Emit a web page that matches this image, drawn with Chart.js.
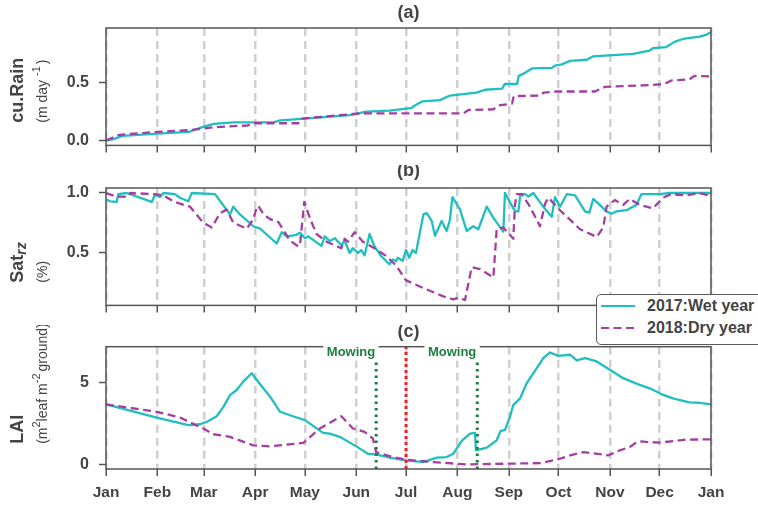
<!DOCTYPE html>
<html>
<head>
<meta charset="utf-8">
<title>Cumulative rain, root-zone saturation and LAI: 2017 vs 2018</title>
<script src="https://cdn.jsdelivr.net/npm/chart.js@4.4.1/dist/chart.umd.min.js"></script>
<style>
  html, body { margin: 0; padding: 0; background: #fff; }
  #wrap { position: relative; width: 758px; height: 508px; overflow: hidden; background: #fff;
          font-family: "Liberation Sans", Arial, sans-serif; }
  #wrap canvas { position: absolute; left: 0; }
  #legend { position: absolute; left: 596px; top: 294px; width: 190px; height: 51px; box-sizing: border-box;
            border: 1.5px solid #5a5a5a; border-radius: 5px; background: #fff; }
  #legend .swatch { position: absolute; left: 4px; width: 34px; height: 6px; }
  #legend .name { position: absolute; left: 50px; font-weight: bold; font-size: 16px; line-height: 20px;
                  color: #444; white-space: nowrap; }
</style>
</head>
<body>
<div id="wrap">
  <canvas id="panelA" width="758" height="165" style="top:0px"></canvas>
  <canvas id="panelB" width="758" height="160" style="top:165px"></canvas>
  <canvas id="panelC" width="758" height="183" style="top:325px"></canvas>
  <div id="legend"></div>
</div>
<script>
// ---- calendar axis (non-leap year, day of year) ----
const monthLabels    = ['Jan','Feb','Mar','Apr','May','Jun','Jul','Aug','Sep','Oct','Nov','Dec','Jan'];
const monthStartDays = [0, 31, 59, 90, 120, 151, 181, 212, 243, 273, 304, 334, 365];

const seriesNames = ['2017:Wet year', '2018:Dry year'];

// ---- (a) cumulative rain, [day, m] ----
const cuRain2017 = [[0,0],[4,0.01],[10,0.04],[31,0.06],[50,0.075],[59,0.12],[65,0.145],[77,0.158],[101,0.158],
  [105,0.175],[120,0.19],[147,0.22],[157,0.25],[171,0.26],[184,0.28],[186.5,0.305],[191,0.34],[201.5,0.35],
  [207.5,0.39],[223.6,0.415],[228.7,0.44],[239,0.45],[240.5,0.49],[248,0.49],[249,0.56],[252,0.58],[257,0.625],
  [269,0.63],[271,0.65],[275,0.66],[280,0.69],[290,0.70],[294,0.73],[318,0.75],[328,0.78],[330,0.80],[338,0.81],
  [343,0.855],[348,0.88],[358,0.90],[362,0.915],[365,0.94]];
const cuRain2018 = [[0,0],[8,0.05],[31,0.075],[50,0.09],[65,0.115],[77,0.125],[85,0.13],[89,0.15],[116,0.15],
  [118,0.19],[149,0.23],[157,0.235],[215.6,0.235],[218.6,0.265],[233.7,0.27],[236.7,0.305],[245,0.32],[246,0.385],
  [262,0.39],[264,0.415],[272,0.425],[295,0.425],[301,0.465],[328,0.48],[337,0.49],[341,0.52],[352,0.53],
  [355,0.56],[365,0.555]];

// ---- (b) root-zone saturation, [day, fraction] ----
const satRz2017 = [[0,0.946],[2.4,0.93],[6.4,0.925],[7.4,0.99],[12.5,1.0],[27.6,0.925],[29.6,0.985],[32.6,0.965],
  [34.6,1.0],[41.6,0.99],[44.6,0.96],[49.7,0.93],[51.7,1.0],[65.8,0.99],[74.8,0.82],[76.8,0.885],[80.8,0.82],
  [88.9,0.72],[93,0.70],[103,0.575],[106,0.67],[109,0.635],[115,0.648],[117,0.665],[120,0.62],[122,0.635],
  [130,0.555],[132,0.635],[135,0.595],[138,0.62],[142,0.56],[144,0.60],[147,0.495],[149,0.535],[152,0.495],
  [154,0.52],[156,0.475],[159,0.655],[162,0.55],[166,0.47],[171,0.40],[173,0.44],[175,0.425],[176,0.455],
  [179,0.43],[181,0.52],[183,0.455],[185,0.52],[187,0.495],[191.5,0.82],[193.5,0.83],[196.5,0.765],[198.5,0.64],
  [202.5,0.765],[205.5,0.68],[207.5,0.775],[209,0.965],[213.6,0.86],[217.6,0.68],[221.6,0.72],[224.6,0.695],
  [229.7,0.885],[233.7,0.79],[239.7,0.675],[240.7,1.0],[246.8,0.845],[248.8,0.845],[250,0.99],[252.8,0.99],
  [254.8,0.97],[257.8,1.0],[263.8,0.885],[268.9,0.80],[270.9,0.965],[273.9,0.885],[278,0.99],[283,0.98],
  [289,0.845],[291.6,0.835],[294,0.95],[302,0.845],[305,0.825],[308,0.845],[314,0.855],[320,0.90],[323,0.99],
  [334,0.99],[340,1.0],[365,1.0]];
const satRz2018 = [[0,1.0],[6,0.97],[13.5,0.97],[14.5,1.0],[29.6,0.99],[34.6,0.98],[40.6,0.93],[44.6,0.91],
  [50.7,0.885],[58.7,0.75],[63.8,0.71],[68.8,0.83],[72.8,0.86],[76.8,0.75],[84.9,0.70],[88.9,0.78],[91,0.885],
  [92,0.89],[95,0.82],[99,0.78],[104,0.755],[111,0.60],[116,0.55],[117,0.56],[119.6,0.925],[123,0.79],[127,0.655],
  [133,0.59],[142,0.535],[144,0.615],[146,0.59],[150,0.67],[155,0.59],[162,0.535],[169,0.47],[175,0.39],
  [181,0.265],[191.5,0.20],[203.5,0.13],[209.5,0.105],[212.5,0.118],[216.6,0.10],[220.6,0.375],[225.6,0.36],
  [233.7,0.29],[235.7,0.695],[239.7,0.71],[245.7,0.615],[246.8,0.91],[247.8,0.99],[250.8,0.99],[255.8,0.885],
  [261.8,0.72],[264.9,0.91],[266.9,0.96],[273.9,0.855],[286,0.695],[296,0.63],[300,0.71],[302,0.885],[307,0.94],
  [312,0.90],[316,0.95],[322,0.90],[330,0.87],[336,0.96],[341,0.99],[350,0.98],[358,1.0],[365,0.975]];

// ---- (c) leaf area index, [day, m2 leaf / m2 ground] ----
const lai2017 = [[0,3.68],[30.6,2.88],[49.7,2.41],[56.7,2.47],[60.7,2.61],[66.8,2.96],[70.8,3.53],[74.8,4.25],
  [78.8,4.56],[82.8,5.07],[87.9,5.58],[91,5.17],[99,4.15],[105,3.23],[111,3.02],[120,2.72],[131,1.94],[135,1.90],
  [141,1.70],[151,1.12],[158,0.67],[163,0.63],[171,0.43],[181,0.26],[191.5,0.16],[199.5,0.43],[205.5,0.47],
  [209.5,0.67],[214.6,1.45],[219.6,1.90],[222.6,1.94],[223.2,0.88],[229.7,1.04],[235.7,1.49],[238,2.05],
  [240.7,2.12],[243.7,2.92],[245.7,3.64],[249.8,4.05],[253.8,4.97],[259.9,5.89],[263.8,6.50],[267.9,6.85],
  [272.9,6.64],[280,6.71],[284,6.36],[289,6.50],[296,6.30],[304,5.79],[312,5.28],[322,4.87],[328,4.66],
  [335,4.31],[342,4.05],[352,3.80],[358,3.78],[365,3.68]];
const lai2018 = [[0,3.68],[30.6,3.23],[44.6,2.88],[58.7,2.21],[64.7,1.86],[74.8,1.70],[88.9,1.18],[99,1.12],
  [119,1.33],[129,2.21],[142,2.96],[149,2.21],[156,2.0],[161,1.60],[163,0.77],[173,0.47],[181,0.31],[197.5,0.16],
  [217.6,0.02],[262,0.10],[272,0.31],[280,0.57],[288,0.77],[293,0.71],[303,0.57],[310,0.88],[316,1.08],
  [321,1.43],[326,1.39],[334,1.35],[350,1.53],[365,1.55]];

// event markers in panel (c)
const mowingDays = [163, 224];
const midYearDay = 181;

// y-axis tick values
const rainTicks = [0, 0.5];
const satTicks  = [0.5, 1.0];
const laiTicks  = [0, 5];

// ---- styling ----
const FONT  = '"Liberation Sans", Arial, sans-serif';
const INK   = '#444444';
const FRAME = '#555555';
const WET   = '#1fbfc0';
const DRY   = '#a53ea3';
const GREEN = '#1b7f3f';
const RED   = '#e5232b';

const toXY = pairs => pairs.map(p => ({ x: p[0], y: p[1] }));

function seriesDatasets(wet, dry) {
  return [
    { label: seriesNames[1], data: toXY(dry), borderColor: DRY, borderWidth: 2.3, borderDash: [8, 4.5], order: 1 },
    { label: seriesNames[0], data: toXY(wet), borderColor: WET, borderWidth: 2.3, order: 2 }
  ];
}

function drawRotatedRuns(ctx, x, y, runs) {
  ctx.save();
  ctx.translate(x, y);
  ctx.rotate(-Math.PI / 2);
  ctx.textAlign = 'left';
  ctx.textBaseline = 'alphabetic';
  ctx.fillStyle = INK;
  let cx = 0;
  for (const r of runs) {
    ctx.font = (r.italic ? 'italic ' : '') + (r.bold ? 'bold ' : '') + r.size + 'px ' + FONT;
    ctx.fillText(r.text, cx, r.shift || 0);
    cx += ctx.measureText(r.text).width + (r.gap || 0);
  }
  ctx.restore();
}

function decorations(panel) {
  return {
    id: 'panelDecor',
    afterDraw(chart) {
      const { ctx, chartArea: a } = chart;
      ctx.save();
      ctx.strokeStyle = FRAME;
      ctx.lineWidth = 1.5;
      ctx.strokeRect(a.left, a.top, a.right - a.left, a.bottom - a.top);

      ctx.fillStyle = INK;
      ctx.font = 'bold 18px ' + FONT;
      ctx.textAlign = 'center';
      ctx.textBaseline = 'middle';
      ctx.fillText(panel.letter, (a.left + a.right) / 2, a.top - panel.letterGap);

      const startY = (a.top + a.bottom) / 2 + 36;
      drawRotatedRuns(ctx, 22.5, startY, panel.title);
      drawRotatedRuns(ctx, 47, startY, panel.unit);
      if (panel.extra) panel.extra(chart);
      ctx.restore();
    }
  };
}

function makePanel(id, cfg) {
  return new Chart(document.getElementById(id), {
    type: 'line',
    data: { datasets: cfg.datasets },
    options: {
      responsive: false,
      animation: false,
      events: [],
      layout: { padding: { top: cfg.padTop, right: 47, left: 0, bottom: 0 } },
      plugins: { legend: { display: false }, tooltip: { enabled: false }, title: { display: false } },
      elements: { point: { radius: 0 }, line: { tension: 0, fill: false, borderJoinStyle: 'round' } },
      scales: {
        x: {
          type: 'linear', min: 0, max: 365,
          afterBuildTicks: s => { s.ticks = monthStartDays.map(v => ({ value: v })); },
          afterFit: s => { s.height = cfg.xHeight; },
          ticks: {
            display: cfg.showMonths, autoSkip: false, maxRotation: 0, minRotation: 0, padding: 7,
            color: INK, font: { family: FONT, size: 15.5, weight: 'bold' },
            callback: (v, i) => monthLabels[i]
          },
          grid: { color: '#d0d0d0', lineWidth: 2.5, drawTicks: true, tickLength: 7, tickColor: FRAME, tickWidth: 1.5 },
          border: { display: false, dash: [8, 5] }
        },
        y: {
          min: cfg.yMin, max: cfg.yMax,
          afterBuildTicks: s => { s.ticks = cfg.yTicks.map(v => ({ value: v })); },
          afterFit: s => { s.width = 106; },
          ticks: {
            padding: 10, color: INK, font: { family: FONT, size: 16, weight: 'bold' },
            callback: v => v.toFixed(cfg.decimals)
          },
          grid: { drawOnChartArea: false, drawTicks: true, tickLength: 7, tickColor: FRAME, tickWidth: 1.5 },
          border: { display: false }
        }
      }
    },
    plugins: [decorations(cfg.panel)]
  });
}

// (a) cumulative rain
makePanel('panelA', {
  datasets: seriesDatasets(cuRain2017, cuRain2018),
  padTop: 28, xHeight: 15, showMonths: false,
  yMin: -0.042, yMax: 0.975, yTicks: rainTicks, decimals: 1,
  panel: {
    letter: '(a)', letterGap: 15.4,
    title: [{ text: 'cu.Rain', size: 18, bold: true }],
    unit: [{ text: '(m day ', size: 14 }, { text: '-1', size: 11, shift: -7, gap: 2 }, { text: ')', size: 14 }]
  }
});

// (b) root-zone saturation
makePanel('panelB', {
  datasets: seriesDatasets(satRz2017, satRz2018),
  padTop: 23, xHeight: 15, showMonths: false,
  yMin: 0.054, yMax: 1.042, yTicks: satTicks, decimals: 1,
  panel: {
    letter: '(b)', letterGap: 17,
    title: [{ text: 'Sat', size: 18, bold: true }, { text: 'rz', size: 14, bold: true, italic: true, shift: 3 }],
    unit: [{ text: '(%)', size: 14 }]
  }
});

// (c) leaf area index, with mowing dates and mid-year marker
const markerTop = 7.2, markerBottom = -0.26;
const markerSets = [
  { data: [{ x: midYearDay, y: markerBottom }, { x: midYearDay, y: markerTop }],
    borderColor: RED, borderWidth: 3, borderDash: [3, 3], order: 0 }
].concat(mowingDays.map(d => ({
    data: [{ x: d, y: markerBottom }, { x: d, y: markerTop }],
    borderColor: GREEN, borderWidth: 3, borderDash: [2.5, 4], order: 0
})));

makePanel('panelC', {
  datasets: seriesDatasets(lai2017, lai2018).concat(markerSets),
  padTop: 21.7, xHeight: 39, showMonths: true,
  yMin: markerBottom, yMax: markerTop, yTicks: laiTicks, decimals: 0,
  panel: {
    letter: '(c)', letterGap: 14.2,
    title: [{ text: 'LAI', size: 18, bold: true }],
    unit: [{ text: '(m', size: 14 }, { text: '2', size: 11, shift: -7 }, { text: 'leaf m', size: 14 },
           { text: '-2', size: 11, shift: -7, gap: 2 }, { text: 'ground)', size: 14 }],
    extra(chart) {
      const { ctx, chartArea: a, scales: { x } } = chart;
      ctx.font = 'bold 13px ' + FONT;
      ctx.textAlign = 'right';
      ctx.textBaseline = 'middle';
      for (const d of mowingDays) {
        const px = x.getPixelForValue(d);
        const w = ctx.measureText('Mowing').width;
        ctx.fillStyle = '#fff';
        ctx.fillRect(px - w - 4.5, a.top - 4, w + 7, 18);
        ctx.fillStyle = GREEN;
        ctx.fillText('Mowing', px - 1, a.top + 5.6);
      }
    }
  }
});

// legend
const legend = document.getElementById('legend');
[[WET, null], [DRY, '8 4.5']].forEach(([color, dash], i) => {
  const top = 1.2 + i * 21.6;
  const svgNS = 'http://www.w3.org/2000/svg';
  const svg = document.createElementNS(svgNS, 'svg');
  svg.setAttribute('class', 'swatch');
  svg.setAttribute('width', '34');
  svg.setAttribute('height', '6');
  svg.style.top = (top + 7) + 'px';
  const ln = document.createElementNS(svgNS, 'line');
  ln.setAttribute('x1', '0'); ln.setAttribute('y1', '3');
  ln.setAttribute('x2', '34'); ln.setAttribute('y2', '3');
  ln.setAttribute('stroke', color); ln.setAttribute('stroke-width', '2.2');
  if (dash) ln.setAttribute('stroke-dasharray', dash);
  svg.appendChild(ln);
  legend.appendChild(svg);
  const name = document.createElement('div');
  name.className = 'name';
  name.style.top = top + 'px';
  name.textContent = seriesNames[i];
  legend.appendChild(name);
});
</script>
</body>
</html>
